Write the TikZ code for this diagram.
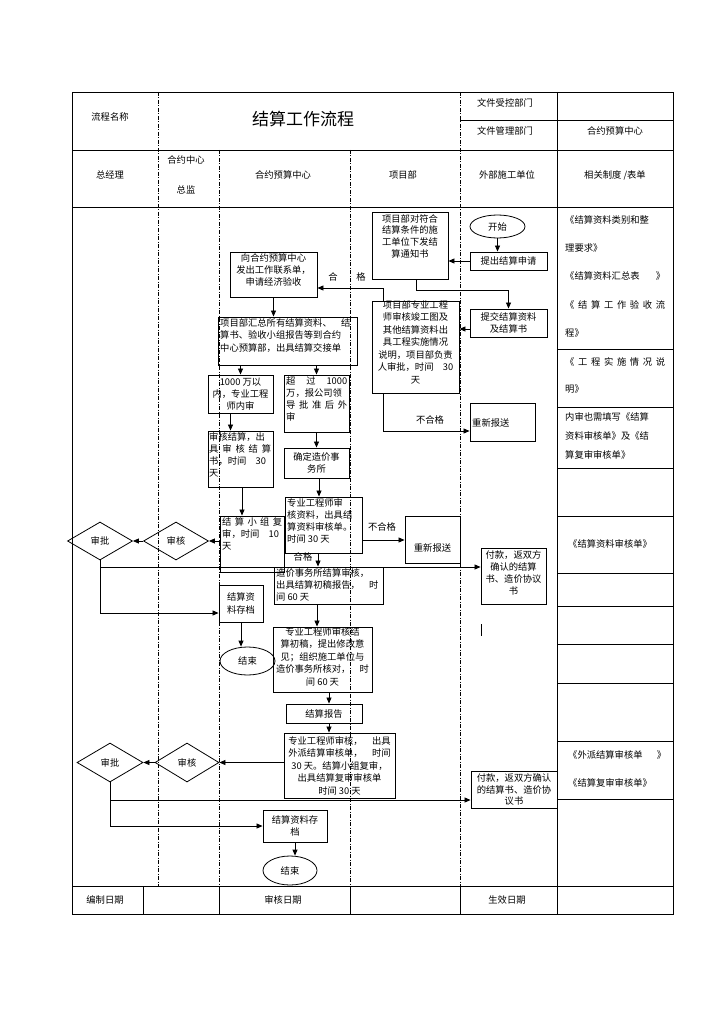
\documentclass[tikz,border=0pt]{standalone}
\usepackage{fontspec}
\setmainfont{Noto Sans CJK SC}
\usetikzlibrary{arrows.meta,shapes.geometric,calc}
\begin{document}
\begin{tikzpicture}[x=1pt,y=-1pt,
  every node/.style={font=\fontsize{9.3}{12.2}\selectfont, inner sep=1pt},
  box/.style={draw, line width=0.9pt, rectangle, inner sep=0pt},
  txt/.style={align=center, inner sep=0pt},
  lane/.style={line width=0.7pt, dash pattern=on 4pt off 1.5pt on 1pt off 1.5pt},
  grid/.style={line width=0.8pt},
  arr/.style={line width=0.8pt, -{Triangle[length=6pt,width=5pt]}},
  dia/.style={draw, diamond, line width=0.8pt, inner sep=0pt, aspect=1.7},
  oval/.style={draw, ellipse, line width=0.8pt, inner sep=0pt},
  rtxt/.style={anchor=west, inner sep=0pt},
]
\fill[white] (0,0) rectangle (724,1024);
\useasboundingbox (0,0) rectangle (724,1024);

% ---------- table frame ----------
\draw[grid] (72,92) rectangle (673,914);
\draw[grid] (460,120) -- (673,120);
\draw[grid] (72,150) -- (673,150);
\draw[grid] (72,207) -- (673,207);
\draw[grid] (72,886) -- (673,886);
\draw[lane] (158,92) -- (158,886);
\draw[lane] (219,150) -- (219,886);
\draw[lane] (350,150) -- (350,886);
\draw[lane] (460,92) -- (460,886);
\draw[grid] (557,92) -- (557,914);
\foreach \xx in {143,219,350,460} \draw[grid] (\xx,886) -- (\xx,914);
\foreach \yy in {349,407,468,516,573,606,644,683,741,799} \draw[grid] (557,\yy) -- (673,\yy);

% ---------- header texts ----------
\node (h1) at (110,117) {流程名称};
\node[font=\fontsize{17}{20}\selectfont] (title) at (303,119) {结算工作流程};
\node (h2) at (505,103) {文件受控部门};
\node (h3) at (505,131) {文件管理部门};
\node (h4) at (615,131) {合约预算中心};
\node (c1) at (110,175) {总经理};
\node (c2a) at (186,160) {合约中心};
\node (c2b) at (186,190) {总监};
\node (c3) at (283,175) {合约预算中心};
\node (c4) at (403,175) {项目部};
\node (c5) at (507,175) {外部施工单位};
\node (c6) at (615,175) {相关制度 /表单};
\node (f1) at (105,900) {编制日期};
\node (f2) at (283,900) {审核日期};
\node (f3) at (507,900) {生效日期};

% ---------- right column texts ----------
\node[rtxt] (r1) at (565,220) {《结算资料类别和整};
\node[rtxt] (r2) at (565,248) {理要求》};
\node[rtxt] (r3) at (565,276) {\makebox[100pt][l]{《结算资料汇总表\hfill》}};
\node[rtxt] (r4) at (565,305) {\makebox[100pt][s]{《 结 算 工 作 验 收 流}};
\node[rtxt] (r5) at (565,333) {程》};
\node[rtxt] (r6) at (565,362) {\makebox[100pt][s]{《 工 程 实 施 情 况 说}};
\node[rtxt] (r7) at (565,389) {明》};
\node[rtxt] (r8) at (565,417) {内审也需填写《结算};
\node[rtxt] (r9) at (565,436) {资料审核单》及《结};
\node[rtxt] (r10) at (565,455) {算复审审核单》};
\node[rtxt] (r11) at (568,544) {《结算资料审核单》};
\node[rtxt] (r12) at (568,755) {\makebox[98pt][l]{《外派结算审核单\hfill》}};
\node[rtxt] (r13) at (568,783) {《结算复审审核单》};

% ---------- flow nodes ----------
\node[oval, minimum width=55, minimum height=23] (start) at (497.5,226.5) {开始};
\node[box, minimum width=77, minimum height=18] (apply) at (508.5,261) {提出结算申请};
\node[box, minimum width=76, minimum height=67] (notice) at (410,245.5) {};
\node[txt, anchor=north, font=\fontsize{9.3}{11.8}\selectfont] (noticet) at (410,214) {项目部对符合\\结算条件的施\\工单位下发结\\算通知书};
\node[box, minimum width=77, minimum height=28, align=center] (submit) at (508.5,323) {提交结算资料\\及结算书};
\node[box, minimum width=87, minimum height=92] (pmrev) at (415.5,347) {};
\node[txt, anchor=north, font=\fontsize{9.3}{12.5}\selectfont] (pmrevt) at (415.5,300) {项目部专业工程\\师审核竣工图及\\其他结算资料出\\具工程实施情况\\说明，项目部负责\\人审批，时间\quad 30\\天};
\node[box, minimum width=87, minimum height=45] (contact) at (273.5,274.5) {};
\node[txt, anchor=north] (contactt) at (273.5,253) {向合约预算中心\\发出工作联系单，\\申请经济验收};
\node[box, minimum width=139, minimum height=48] (summary) at (287.5,341) {};
\node[txt, anchor=north west, align=left, font=\fontsize{9.3}{12.5}\selectfont] (summaryt) at (220,318) {项目部汇总所有结算资料、\quad 结\\算书、验收小组报告等到合约\\中心预算部，出具结算交接单};
\node[box, minimum width=65, minimum height=38, align=center] (within) at (240.5,394) {1000 万以\\内，专业工程\\师内审};
\node[box, minimum width=65, minimum height=57] (over) at (316.5,403.5) {};
\node[txt, anchor=north west, align=left] (overt) at (286,376) {\makebox[61pt][s]{超 过 1000}\\万，报公司领\\\makebox[61pt][s]{导 批 准 后 外}\\审};
\node[box, minimum width=65, minimum height=56] (audit) at (240.5,459) {};
\node[txt, anchor=north west, align=left] (auditt) at (209,432) {审核结算，出\\\makebox[62pt][s]{具 审 核 结 算}\\书，时间\quad 30\\天};
\node[box, minimum width=65, minimum height=30, align=center] (firm) at (316.5,463) {确定造价事\\务所};
\node[box, minimum width=77, minimum height=56] (engrev) at (323.5,525) {};
\node[txt, anchor=north west, align=left] (engrevt) at (287,498) {专业工程师审\\核资料，出具结\\算资料审核单。\\时间 30 天};
\node[box, minimum width=55, minimum height=47] (resend1) at (432.5,539.5) {};
\node[txt] (resend1t) at (432.5,548) {重新报送};
\node[box, minimum width=64, minimum height=56] (group) at (252,544) {};
\node[txt, anchor=north west, align=left] (groupt) at (222,517) {\makebox[60pt][s]{结 算 小 组 复}\\审，时间\quad 10\\天};
\node[dia, minimum width=65, minimum height=38] (rev1) at (176,541) {审核};
\node[dia, minimum width=65, minimum height=38] (appr1) at (100,541) {审批};
\node[box, minimum width=65, minimum height=56] (pay1) at (513.5,576) {};
\node[txt, anchor=north] (pay1t) at (513.5,550) {付款，返双方\\确认的结算\\书、造价协议\\书};
\node[box, minimum width=44, minimum height=37, align=center] (archive1) at (241,603.5) {结算资\\料存档};
\node[oval, minimum width=55, minimum height=28] (end1) at (247.5,661) {结束};
\node[box, minimum width=109, minimum height=37] (firmaudit) at (328.5,585.5) {};
\node[txt, anchor=north west, align=left] (firmauditt) at (276,568) {造价事务所结算审核，\\出具结算初稿报告，\quad 时\\间 60 天};
\node[box, minimum width=99, minimum height=65] (draftrev) at (322.5,659.5) {};
\node[txt, anchor=north, font=\fontsize{9.3}{12.5}\selectfont] (draftrevt) at (322.5,627) {专业工程师审核结\\算初稿，提出修改意\\见；组织施工单位与\\造价事务所核对，\quad 时\\间 60 天};
\node[box, minimum width=76, minimum height=19] (report) at (324,713.5) {结算报告};
\node[box, minimum width=111, minimum height=65] (finalrev) at (339.5,765.5) {};
\node[txt, anchor=north, font=\fontsize{9.3}{12.5}\selectfont] (finalrevt) at (339.5,736) {专业工程师审核，\quad 出具\\外派结算审核单，\quad 时间\\30 天。结算小组复审，\\出具结算复审审核单\\时间 30 天};
\node[dia, minimum width=64, minimum height=39] (rev2) at (187,762.5) {审核};
\node[dia, minimum width=66, minimum height=39] (appr2) at (110,762.5) {审批};
\node[box, minimum width=86, minimum height=37, align=center, font=\fontsize{9.3}{11.2}\selectfont] (pay2) at (514,789.5) {付款，返双方确认\\的结算书、造价协\\议书};
\node[box, minimum width=64, minimum height=32, align=center] (archive2) at (295,826) {结算资料存\\档};
\node[oval, minimum width=54, minimum height=29] (end2) at (290,870.5) {结束};
\node[box, minimum width=65, minimum height=38] (resend2) at (502.5,422) {};
\node[txt, anchor=west] (resend2t) at (472,423) {重新报送};

% ---------- labels ----------
\node (lblhe) at (333,277) {合};
\node (lblge) at (361,277) {格};
\node (lblng1) at (430,420) {不合格};
\node (lblng2) at (382,527) {不合格};
\node (lblok) at (303,557) {合格};

% ---------- connectors ----------
\draw[arr] (start.south) -- (start.south |- apply.north);
\draw[arr] (apply.west) -- (apply.west -| notice.east);
\draw[arr] ([xshift=6pt]notice.south) -- ++(0,11) -| (submit.north);
\draw[arr] ([yshift=-6pt]submit.west) -- ([yshift=-6pt]submit.west -| pmrev.east);
\draw[arr] ([xshift=-32.5pt]pmrev.north) |- ([yshift=-13.5pt]contact.east);
\draw[arr] (contact.south) -- (contact.south |- summary.north);
\draw[arr] (summary.south -| within.north) -- (within.north);
\draw[arr] (summary.south -| over.north) -- (over.north);
\draw[arr] ([xshift=-10pt]within.south) -- ([xshift=-10pt]audit.north);
\draw[arr] (over.south) -- (firm.north);
\draw[arr] ([xshift=1.5pt]audit.south) -- ([xshift=1.5pt]audit.south |- group.north);
\draw[arr] ([xshift=2.5pt]firm.south) -- ([xshift=2.5pt]firm.south |- engrev.north);
\draw[arr] ([yshift=-15pt]engrev.east) -- ([yshift=-15pt]engrev.east -| resend1.west);
\draw[arr] ([xshift=-5.5pt]engrev.south) -- ([xshift=-5.5pt]engrev.south |- firmaudit.north);
\draw[arr] (group.west |- rev1.east) -- (rev1.east);
\draw[arr] (rev1.west) -- (appr1.east);
\draw[arr] (appr1.south) |- ([yshift=-9.5pt]archive1.west);
\draw[arr] ([yshift=9pt]appr1.south |- pay1.west) -- ([yshift=9pt]pay1.west);
\draw[arr] (archive1.south) -- (archive1.south |- end1.north);
\draw[arr] ([xshift=-11.5pt]firmaudit.south) -- ([xshift=-11.5pt]firmaudit.south |- draftrev.north);
\draw[arr] ([xshift=5pt]report.north |- draftrev.south) -- ([xshift=5pt]report.north);
\draw[arr] ([xshift=5pt]report.south) -- ([xshift=5pt]report.south |- finalrev.north);
\draw[arr] (finalrev.west |- rev2.east) -- (rev2.east);
\draw[arr] (rev2.west) -- (appr2.east);
\draw[arr] (appr2.south) |- (archive2.west);
\draw[arr] ([yshift=-10.5pt]appr2.south |- pay2.west) -- ([yshift=-10.5pt]pay2.west);
\draw[arr] (archive2.south) -- (archive2.south |- end2.north);
\draw[arr] ([xshift=-32.5pt]pmrev.south) |- ([yshift=-9pt]resend2.west);

% small stray mark
\draw[line width=0.6pt] (481,624) -- (481,636);
\end{tikzpicture}
\end{document}
